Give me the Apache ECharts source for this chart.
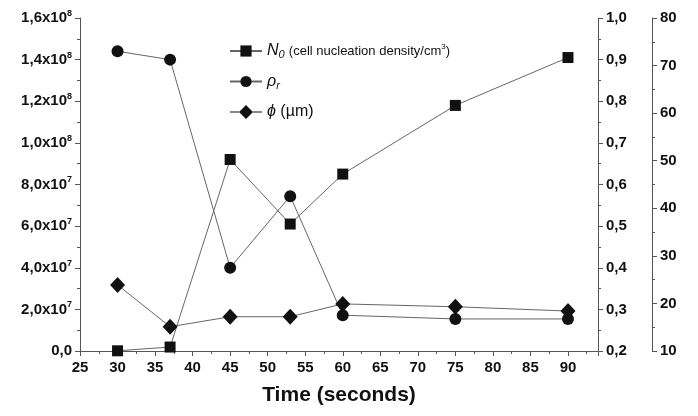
<!DOCTYPE html>
<html>
<head>
<meta charset="utf-8">
<script src="https://cdn.jsdelivr.net/npm/echarts@6/dist/echarts.min.js"></script>
<style>
  html, body { margin: 0; padding: 0; background: #fff; }
  #chart { width: 698px; height: 416px; }
</style>
</head>
<body>
<div id="chart"></div>
<script>
// time in seconds
const times = [30, 37, 45, 53, 60, 75, 90];
// N0, cell nucleation density (left axis)
const nucleation = [0.1e6, 1.9e6, 92e6, 61e6, 85e6, 118e6, 141e6];
// relative density rho_r (first right axis)
const relDensity = [0.92, 0.90, 0.40, 0.572, 0.286, 0.277, 0.277];
// cell size phi in um (second right axis)
const cellSize = [23.9, 15.1, 17.2, 17.2, 19.9, 19.3, 18.4];

const font = 'Liberation Sans, Arial, sans-serif';
const axisColor = '#555';
const lineColor = '#666';
const markColor = '#111';

const pairs = (ys) => times.map((t, i) => [t, ys[i]]);

const sciLabel = (v) => {
  if (v === 0) return '{b|0,0}';
  const exp = Math.floor(Math.log10(v) + 1e-9);
  const m = (v / Math.pow(10, exp)).toFixed(1).replace('.', ',');
  return '{b|' + m + 'x10}{s|' + exp + '}';
};

// legend icon: thin line with a diamond in the middle
const diamondIcon = 'path://M0,6.5L9,6.5L9,7.5L0,7.5Z M9,7L16,0L23,7L16,14Z M23,6.5L32,6.5L32,7.5L23,7.5Z';

const chart = echarts.init(document.getElementById('chart'));

const axisBase = {
  axisLine: { show: true, lineStyle: { color: axisColor, width: 1 } },
  axisTick: { show: true, length: 5, lineStyle: { color: axisColor } },
  minorTick: { show: true, splitNumber: 2, length: 3, lineStyle: { color: axisColor } },
  splitLine: { show: false },
  axisLabel: { fontFamily: font, fontWeight: 'bold', fontSize: 15, color: '#111' }
};

const lineSeries = (name, data, yIndex, symbol, size) => ({
  name: name,
  type: 'line',
  yAxisIndex: yIndex,
  data: pairs(data),
  symbol: symbol,
  symbolSize: size,
  lineStyle: { color: lineColor, width: 1 },
  itemStyle: { color: markColor },
  animation: false
});

chart.setOption({
  backgroundColor: '#fff',
  animation: false,
  grid: { left: 80, right: 100, top: 18, bottom: 65 },
  legend: {
    orient: 'vertical',
    left: 224,
    top: 38,
    itemWidth: 32,
    itemHeight: 14,
    itemGap: 13,
    formatter: (name) => {
      if (name === 'N0') return '{i|N}{sub|0} {sm|(cell nucleation density/cm}{sup|3}{sm|)}';
      if (name === 'rho') return '{i|ρ}{sub|r}';
      return '{i|ϕ}{t| (µm)}';
    },
    textStyle: {
      fontFamily: font, fontSize: 15, color: '#111',
      rich: {
        i: { fontFamily: font, fontStyle: 'italic', fontSize: 16, color: '#111' },
        t: { fontFamily: font, fontSize: 16, color: '#111' },
        sub: { fontFamily: font, fontStyle: 'italic', fontSize: 11, color: '#111', padding: [8, 0, 0, 0] },
        sm: { fontFamily: font, fontSize: 13, color: '#111' },
        sup: { fontFamily: font, fontSize: 8, color: '#111', padding: [0, 0, 8, 0] }
      }
    },
    data: ['N0', 'rho', { name: 'phi', icon: diamondIcon }]
  },
  xAxis: Object.assign({}, axisBase, {
    type: 'value',
    min: 25,
    max: 94,
    interval: 5,
    name: 'Time (seconds)',
    nameLocation: 'middle',
    nameGap: 34,
    nameTextStyle: { fontFamily: font, fontWeight: 'bold', fontSize: 21, color: '#111' },
    axisLabel: Object.assign({}, axisBase.axisLabel, { showMaxLabel: false, margin: 9 })
  }),
  yAxis: [
    Object.assign({}, axisBase, {
      type: 'value',
      position: 'left',
      min: 0,
      max: 1.6e8,
      interval: 2e7,
      axisLabel: Object.assign({}, axisBase.axisLabel, {
        margin: 8,
        formatter: sciLabel,
        rich: {
          b: { fontFamily: font, fontWeight: 'bold', fontSize: 15, color: '#111' },
          s: { fontFamily: font, fontWeight: 'bold', fontSize: 9, color: '#111', padding: [0, 0, 9, 0] }
        }
      })
    }),
    Object.assign({}, axisBase, {
      type: 'value',
      position: 'right',
      min: 0.2,
      max: 1.0,
      interval: 0.1,
      axisLabel: Object.assign({}, axisBase.axisLabel, {
        formatter: (v) => v.toFixed(1).replace('.', ',')
      })
    }),
    Object.assign({}, axisBase, {
      type: 'value',
      position: 'right',
      offset: 54,
      min: 10,
      max: 80,
      interval: 10
    })
  ],
  series: [
    lineSeries('N0', nucleation, 0, 'rect', 11),
    lineSeries('rho', relDensity, 1, 'circle', 12),
    lineSeries('phi', cellSize, 2, 'diamond', [15, 16])
  ]
});
</script>
</body>
</html>
